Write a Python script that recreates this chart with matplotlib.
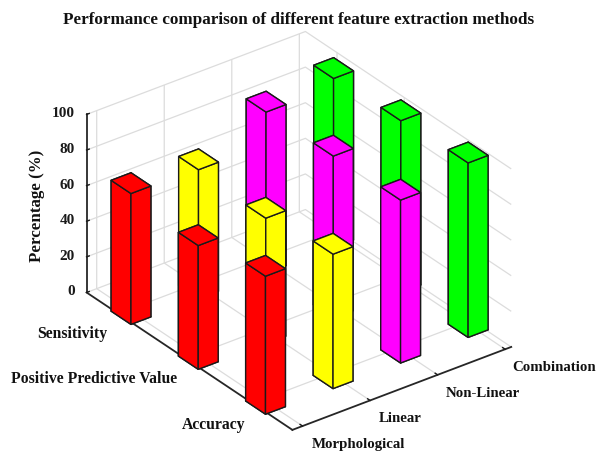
import matplotlib
matplotlib.use("Agg")
import matplotlib.pyplot as plt

plt.rcParams['font.family'] = ['Liberation Serif', 'DejaVu Serif']
plt.rcParams['font.weight'] = 'bold'

methods = ['Morphological', 'Linear', 'Non-Linear', 'Combination']
metrics = ['Accuracy', 'Positive Predictive Value', 'Sensitivity']
colors = ['#ff0000', '#ffff00', '#ff00ff', '#00ff00']
accuracy = [77.5, 75.5, 91.5, 98]
ppv = [69.5, 70.5, 91, 96.5]
sensitivity = [73.5, 72.5, 90.5, 95]
values = [accuracy, ppv, sensitivity]
z_ticks = [0, 20, 40, 60, 80, 100]

fig = plt.figure(figsize=(5.98, 4.52), dpi=100)
ax = fig.add_axes([-6.2 / 598, -11.8 / 452, 1.0, 1.0], projection='3d', proj_type='ortho')
ax.computed_zorder = False
ax.view_init(elev=30.2, azim=-127)
ax.set_box_aspect((278, 347, 209), zoom=1.04)

w = 0.295
order = 0
for j in reversed(range(len(metrics))):
    for i in reversed(range(len(methods))):
        order += 1
        ax.bar3d(i + 1 - w / 2 - 0.035, j + 1 - w / 2 - 0.075, 0, w, w, values[j][i],
                 color=colors[i], edgecolor='#1a1a1a', linewidth=1.0,
                 shade=False, zorder=order)

ax.set_xlim(0.85, 4.09)
ax.set_ylim(0.41, 3.47)
ax.set_zlim(0, 100)
ax.set_xticks(range(1, 5))
ax.set_xticklabels([''] * 4)
ax.set_yticks(range(1, 4))
ax.set_yticklabels([''] * 3)
ax.set_zticks(z_ticks)
ax.set_zticklabels([str(t) for t in z_ticks], ha='right', va='center', fontsize=11, fontweight='bold')

for axis in (ax.xaxis, ax.yaxis, ax.zaxis):
    axis.set_pane_color((1, 1, 1, 1))
    axis.pane.set_edgecolor('none')
    axis._axinfo['grid'].update(color='#dcdcdc', linewidth=0.9)
    axis._axinfo['tick'].update(inward_factor=0.0, outward_factor=0.15, linewidth={True: 1.0, False: 0.5})
    axis.line.set_color('#262626')
    axis.line.set_linewidth(1.3)
ax.tick_params(axis='both', colors='#1a1a1a')
ax.tick_params(axis='z', pad=-3.2)

method_label_xy = [(312, 445), (379, 418.5), (446, 393.5), (512, 367.5)]
metric_label_xy = [(245, 425.5), (177, 379.5), (107, 334.5)]
for name, (px, py) in zip(methods, method_label_xy):
    fig.text(px / 598, 1 - py / 452, name, ha='left', va='center',
             fontsize=10.7, fontweight='bold', color='#111111')
for name, (px, py) in zip(metrics, metric_label_xy):
    fig.text(px / 598, 1 - py / 452, name, ha='right', va='center',
             fontsize=11.3, fontweight='bold', color='#111111')

fig.text(299 / 598, 1 - 19.5 / 452, 'Performance comparison of different feature extraction methods',
         ha='center', va='center', fontsize=12.3, fontweight='bold', color='#111111')
fig.text(37 / 598, 1 - 206 / 452, 'Percentage (%)', rotation=90, ha='center', va='center',
         fontsize=12.2, fontweight='bold', color='#111111')

fig.savefig('out.png', dpi=100)
